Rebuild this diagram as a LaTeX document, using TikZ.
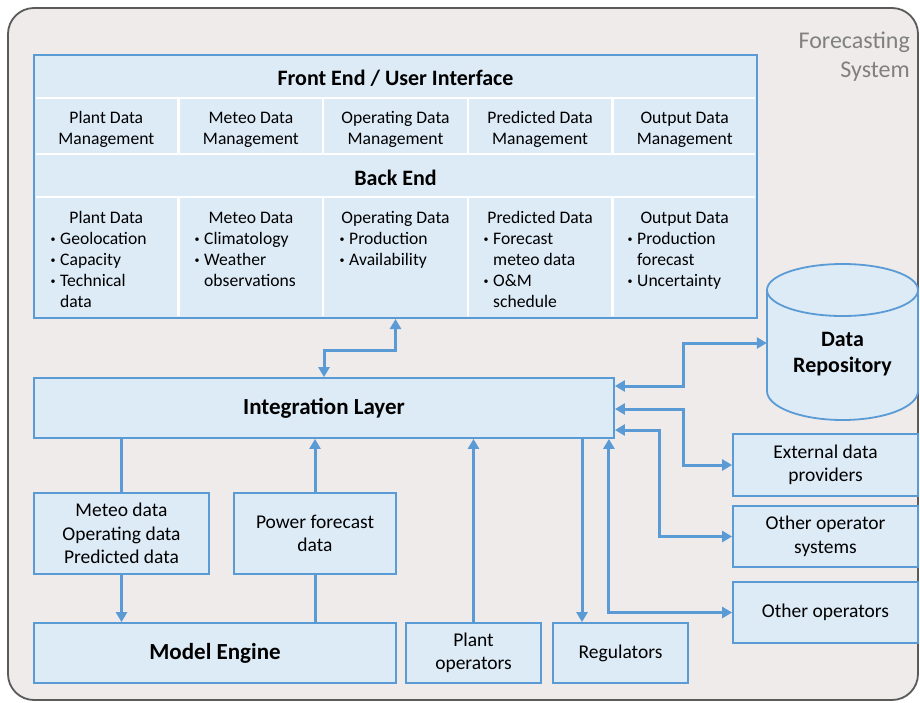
\documentclass[tikz,border=0pt]{standalone}
\usepackage{fontspec}
\setmainfont{Carlito}
\usetikzlibrary{arrows.meta,calc}
\definecolor{bl}{HTML}{5B9BD5}
\definecolor{bfill}{HTML}{DDEBF7}
\definecolor{sysfill}{HTML}{EEEBEA}
\definecolor{sysline}{HTML}{5A5A5A}
\definecolor{sysgray}{HTML}{808080}
\tikzset{
 box/.style={draw=bl, line width=1.8pt, fill=bfill, inner sep=0pt, align=center, font=\fontsize{19.5}{23.5}\selectfont},
 bbox/.style={box, font=\fontsize{23}{27}\selectfont\bfseries},
 txt/.style={inner sep=0pt, font=\fontsize{17.6}{21}\selectfont},
 bultxt/.style={inner sep=0pt, font=\fontsize{10}{12}\selectfont},
 btxt/.style={inner sep=0pt, font=\fontsize{22}{26}\selectfont\bfseries},
 tip/.tip={Triangle[length=10pt,width=11pt]},
 arr/.style={draw=bl, line width=3pt, -tip},
 darr/.style={draw=bl, line width=3pt, tip-tip},
 ln/.style={draw=bl, line width=3pt},
 sepline/.style={draw=white, line width=2.5pt},
 cyl/.style={draw=bl, line width=1.8pt, fill=bfill},
}
\newcommand\bitem[4]{% name, text x, baseline y, text
 \node[bultxt,anchor=base] (#1b) at (#2-7,#3-1.5) {•};
 \node[txt,anchor=base west] (#1) at (#2,#3) {#4};}
\newcommand\citem[4]{\node[txt,anchor=base west] (#1) at (#2,#3) {#4};}
\newcommand\ctitle[4]{\node[txt,anchor=base] (#1) at (#2,#3) {#4};}
\begin{document}
\begin{tikzpicture}[x=1pt,y=-1pt]
\useasboundingbox (0,0) rectangle (920,702);
% system frame
\node[draw=sysline, line width=1.8pt, fill=sysfill, rounded corners=26pt, minimum width=910pt, minimum height=692pt, inner sep=0pt] (sys) at (463,354) {};
\node[anchor=north east, align=right, text=sysgray, inner sep=0pt, font=\fontsize{24}{29}\selectfont] (systitle) at (910,32) {Forecasting\\System};

% front end / back end block
\node[draw=bl, line width=2pt, fill=bfill, minimum width=723pt, minimum height=263pt, inner sep=0pt] (fe) at (395.5,186.5) {};
\foreach \y in {98,154,197} \draw[sepline] (36,\y) -- (755,\y);
\foreach \x in {178.6,323.2,467.8,612.4} {
  \draw[sepline] (\x,99) -- (\x,153);
  \draw[sepline] (\x,198) -- (\x,316);
}
\node[btxt, anchor=base] (feh) at (395.5,85) {Front End / User Interface};
\node[btxt, anchor=base] (beh) at (395.5,185) {Back End};

\ctitle{m1a}{106.3}{123}{Plant Data}
\ctitle{m1b}{106.3}{144}{Management}
\ctitle{m2a}{250.9}{123}{Meteo Data}
\ctitle{m2b}{250.9}{144}{Management}
\ctitle{m3a}{395.5}{123}{Operating Data}
\ctitle{m3b}{395.5}{144}{Management}
\ctitle{m4a}{540.1}{123}{Predicted Data}
\ctitle{m4b}{540.1}{144}{Management}
\ctitle{m5a}{684.7}{123}{Output Data}
\ctitle{m5b}{684.7}{144}{Management}

\ctitle{b1}{106.3}{223}{Plant Data}
\bitem{b1a}{60}{244}{Geolocation}
\bitem{b1b}{60}{265}{Capacity}
\bitem{b1c}{60}{286}{Technical}
\citem{b1d}{60}{307}{data}

\ctitle{b2}{250.9}{223}{Meteo Data}
\bitem{b2a}{204}{244}{Climatology}
\bitem{b2b}{204}{265}{Weather}
\citem{b2c}{204}{286}{observations}

\ctitle{b3}{395.5}{223}{Operating Data}
\bitem{b3a}{349}{244}{Production}
\bitem{b3b}{349}{265}{Availability}

\ctitle{b4}{540.1}{223}{Predicted Data}
\bitem{b4a}{493}{244}{Forecast}
\citem{b4b}{493}{265}{meteo data}
\bitem{b4c}{493}{286}{O\&M}
\citem{b4d}{493}{307}{schedule}

\ctitle{b5}{684.7}{223}{Output Data}
\bitem{b5a}{637}{244}{Production}
\citem{b5b}{637}{265}{forecast}
\bitem{b5c}{637}{286}{Uncertainty}

% data repository cylinder
\draw[cyl] (842.5,391) ellipse (75.5pt and 29pt);
\fill[bfill] (767,290) rectangle (918,391);
\draw[draw=bl, line width=1.8pt] (767,290) -- (767,391) (918,290) -- (918,391);
\draw[cyl] (842.5,290) ellipse (75.5pt and 26pt);
\node[btxt, align=center, minimum width=151pt] (dr) at (842.5,354) {Data\\Repository};

% boxes
\node[bbox, minimum width=580pt, minimum height=60pt] (il) at (324,408) {Integration Layer};
\node[box, minimum width=175pt, minimum height=81pt] (md) at (121.5,533.5) {Meteo data\\Operating data\\Predicted data};
\node[box, minimum width=162pt, minimum height=81pt] (pf) at (315,533.5) {Power forecast\\data};
\node[bbox, minimum width=362pt, minimum height=60pt] (me) at (215,653) {Model Engine};
\node[box, minimum width=135pt, minimum height=60pt] (po) at (473.5,653) {Plant\\operators};
\node[box, minimum width=135pt, minimum height=60pt] (rg) at (620.5,653) {Regulators};
\node[box, minimum width=185pt, minimum height=62pt] (ed) at (825.5,465) {External data\\providers};
\node[box, minimum width=185pt, minimum height=61pt] (os) at (825.5,536.5) {Other operator\\systems};
\node[box, minimum width=185pt, minimum height=61pt] (oo) at (825.5,612.5) {Other operators};

% connectors
\draw[darr] (fe.south) -- ++(0,31) -| (il.north);
\draw[ln] (il.south -| md.north) -- (md.north);
\draw[arr] (md.south) -- (md.south |- me.north);
\draw[ln] (me.north -| pf.south) -- (pf.south);
\draw[arr] (pf.north) -- (pf.north |- il.south);
\draw[arr] (po.north) -- (po.north |- il.south);
\coordinate (rgtop) at ([xshift=-38.5pt]rg.north);
\draw[arr] (rgtop |- il.south) -- (rgtop);
\coordinate (oot) at ([xshift=-6pt]il.south east);
\draw[darr] (oot) |- (oo.west);
\draw[darr] ([yshift=22pt]il.east) -- ++(69,0) |- ([yshift=11pt]dr.west);
\draw[darr] ([yshift=-1pt]il.east) -- ++(69,0) |- (ed.west);
\draw[darr] ([yshift=-22pt]il.east) -- ++(45,0) |- (os.west);
\end{tikzpicture}
\end{document}
